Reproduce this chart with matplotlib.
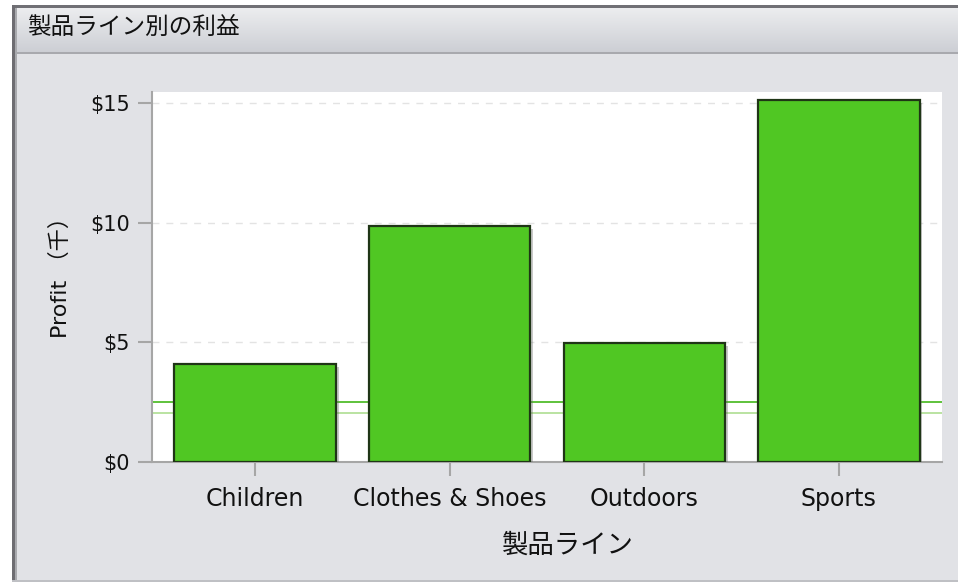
import numpy as np
import matplotlib
matplotlib.use("Agg")
import matplotlib.pyplot as plt
import matplotlib.patheffects as pe
from matplotlib.patches import Rectangle

plt.rcParams['font.family'] = ['DejaVu Sans', 'Noto Sans CJK JP']

# data
categories = ['Children', 'Clothes & Shoes', 'Outdoors', 'Sports']
profit = [4.1, 9.86, 4.97, 15.13]          # thousands of dollars
ref_lines = [2.52, 2.06]                   # reference lines
ref_colors = ['#52bd2c', '#b4e19a']
yticks = [0, 5, 10, 15]
ytick_labels = ['$0', '$5', '$10', '$15']

title = '製品ライン別の利益'
xlabel = '製品ライン'
ylabel = 'Profit （千）'

W, H = 958, 582
fig = plt.figure(figsize=(W / 100, H / 100), dpi=100)
fig.patch.set_facecolor('white')

# window frame drawn in pixel coordinates
bg = fig.add_axes([0, 0, 1, 1])
bg.set_xlim(0, W)
bg.set_ylim(H, 0)
bg.axis('off')
bg.add_patch(Rectangle((12, 5), W - 12, H - 5, facecolor='#e1e2e6', edgecolor='none'))
grad = np.linspace(0, 1, 50).reshape(-1, 1)
c_top = np.array([0.925, 0.929, 0.937])
c_bot = np.array([0.800, 0.808, 0.831])
img = c_top + (c_bot - c_top) * grad[..., None]
bg.imshow(img, extent=(15, W, 53, 8), aspect='auto', zorder=1)
bg.add_patch(Rectangle((12, 5), W - 12, 3, facecolor='#707075', edgecolor='none', zorder=2))
bg.add_patch(Rectangle((12, 5), 3, H - 5, facecolor='#6e6d72', edgecolor='none', zorder=2))
bg.add_patch(Rectangle((15, 8), 2, H - 8, facecolor='#a9aaae', edgecolor='none', zorder=2))
bg.add_patch(Rectangle((15, 52), W - 15, 2, facecolor='#a8a9ae', edgecolor='none', zorder=2))
bg.add_patch(Rectangle((12, H - 2), W - 12, 2, facecolor='#bfc0c4', edgecolor='none', zorder=2))
bg.text(27, 27, title, fontsize=17, color='#111111', va='center', ha='left', zorder=3,
        family='Noto Sans CJK JP')

# axis titles
bg.text(568, 545, xlabel, fontsize=19, color='#111111', va='center', ha='center',
        family='Noto Sans CJK JP')
bg.text(60, 272, ylabel, fontsize=16, color='#111111', va='center', ha='center', rotation=90)

# chart area
left, right, top, bottom = 152, 942, 92, 462
ax = fig.add_axes([left / W, 1 - bottom / H, (right - left) / W, (bottom - top) / H])
ax.set_facecolor('white')
x = np.arange(len(categories))

ax.bar(x, profit, width=0.83, color='#50c723', edgecolor='#1f3516', linewidth=1.6,
       zorder=3, path_effects=[pe.SimplePatchShadow(offset=(2, -2), shadow_rgbFace='#666666', alpha=0.35),
                               pe.Normal()])
for val, col in zip(ref_lines, ref_colors):
    ax.axhline(val, color=col, linewidth=1.3, zorder=2)

ax.set_xlim(-0.53, 3.53)
ax.set_ylim(0, 15.46)
ax.set_yticks(yticks)
ax.set_yticklabels(ytick_labels)
ax.set_xticks(x)
ax.set_xticklabels(categories)
ax.yaxis.grid(True, linestyle=(0, (5, 5)), color='#e3e3e3', linewidth=1, zorder=0)
ax.set_axisbelow(True)

for s in ['top', 'right']:
    ax.spines[s].set_visible(False)
for s in ['left', 'bottom']:
    ax.spines[s].set_color('#a6a6a6')
    ax.spines[s].set_linewidth(1.5)
ax.tick_params(axis='y', length=10, width=1.5, color='#a6a6a6', labelsize=15, pad=6, labelcolor='#111111')
ax.tick_params(axis='x', length=10, width=1.5, color='#a6a6a6', labelsize=17, pad=8, labelcolor='#111111')

fig.savefig('out.png', dpi=100)
